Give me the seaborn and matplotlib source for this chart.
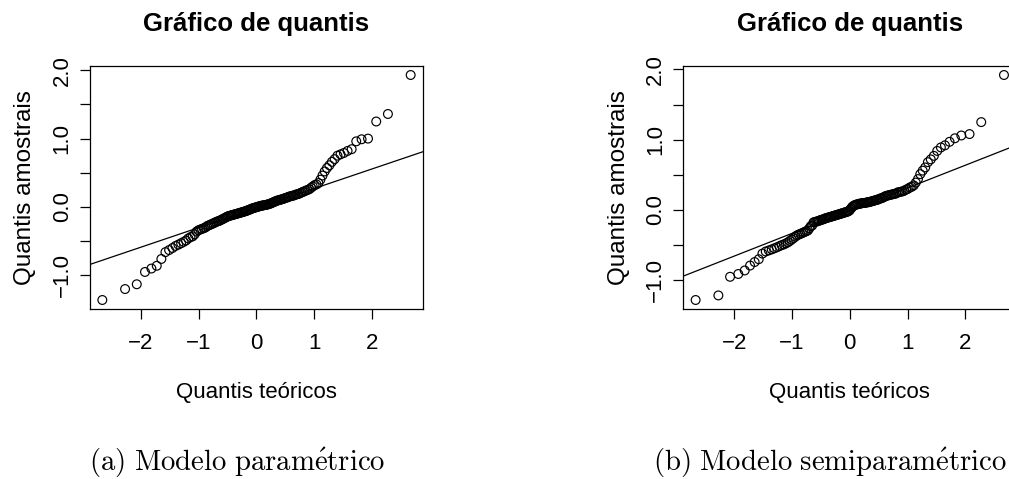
import numpy as np
import seaborn as sns
import matplotlib.pyplot as plt
from statistics import NormalDist

# sorted sample quantiles (130 points each)
sample_param = [
    -1.36, -1.20, -1.13, -0.95, -0.90, -0.86, -0.76, -0.66, -0.63, -0.60,
    -0.57, -0.55, -0.53, -0.51, -0.49, -0.46, -0.44, -0.43, -0.40, -0.36,
    -0.34, -0.33, -0.32, -0.31, -0.30, -0.28, -0.27, -0.26, -0.25, -0.24,
    -0.23, -0.22, -0.21, -0.205, -0.195, -0.185, -0.175, -0.165, -0.155, -0.145,
    -0.135, -0.13, -0.125, -0.12, -0.115, -0.11, -0.105, -0.10, -0.095, -0.09,
    -0.085, -0.08, -0.075, -0.07, -0.065, -0.06, -0.055, -0.045, -0.04, -0.035,
    -0.025, -0.02, -0.015, -0.01, -0.005, 0.00, 0.005, 0.01, 0.015, 0.02,
    0.02, 0.025, 0.03, 0.03, 0.035, 0.04, 0.045, 0.05, 0.06, 0.065,
    0.075, 0.08, 0.09, 0.095, 0.10, 0.105, 0.11, 0.115, 0.12, 0.13,
    0.135, 0.14, 0.15, 0.155, 0.16, 0.165, 0.17, 0.18, 0.185, 0.19,
    0.20, 0.21, 0.22, 0.23, 0.24, 0.25, 0.26, 0.28, 0.30, 0.32,
    0.33, 0.35, 0.40, 0.46, 0.52, 0.57, 0.61, 0.66, 0.70, 0.75,
    0.77, 0.79, 0.82, 0.845, 0.96, 0.99, 1.00, 1.25, 1.36, 1.93,
]

sample_semi = [
    -1.28, -1.215, -0.95, -0.91, -0.86, -0.79, -0.74, -0.70, -0.62, -0.59,
    -0.575, -0.56, -0.545, -0.53, -0.515, -0.50, -0.49, -0.475, -0.46, -0.44,
    -0.42, -0.40, -0.38, -0.36, -0.35, -0.34, -0.33, -0.32, -0.31, -0.30,
    -0.29, -0.26, -0.23, -0.22, -0.175, -0.17, -0.165, -0.16, -0.155, -0.145,
    -0.14, -0.135, -0.13, -0.12, -0.115, -0.11, -0.105, -0.10, -0.095, -0.09,
    -0.085, -0.08, -0.075, -0.07, -0.065, -0.06, -0.055, -0.05, -0.045, -0.04,
    -0.035, -0.03, -0.025, -0.02, -0.01, 0.01, 0.03, 0.05, 0.06, 0.07,
    0.075, 0.08, 0.085, 0.09, 0.09, 0.095, 0.10, 0.10, 0.10, 0.105,
    0.11, 0.11, 0.115, 0.12, 0.125, 0.13, 0.135, 0.14, 0.145, 0.15,
    0.16, 0.165, 0.17, 0.18, 0.19, 0.20, 0.205, 0.21, 0.215, 0.22,
    0.225, 0.23, 0.235, 0.25, 0.255, 0.26, 0.265, 0.275, 0.29, 0.30,
    0.32, 0.33, 0.35, 0.39, 0.44, 0.51, 0.56, 0.605, 0.68, 0.72,
    0.77, 0.84, 0.89, 0.92, 0.97, 1.02, 1.06, 1.08, 1.25, 1.92,
]

titles = ["Gráfico de quantis", "Gráfico de quantis"]
captions = [r"$\mathrm{(a)\ Modelo\ param\acute{e}trico}$",
            r"$\mathrm{(b)\ Modelo\ semiparam\acute{e}trico}$"]
x_ticks = [-2, -1, 0, 1, 2]
x_tick_labels = ["\u22122", "\u22121", "0", "1", "2"]
y_ticks = [-1.0, -0.5, 0.0, 0.5, 1.0, 1.5, 2.0]
y_tick_labels = ["\u22121.0", "", "0.0", "", "1.0", "", "2.0"]

sns.set_theme(style="ticks")
plt.rcParams["font.family"] = ["Liberation Sans", "DejaVu Sans"]
plt.rcParams["mathtext.fontset"] = "cm"
plt.rcParams["text.color"] = "black"
plt.rcParams["axes.labelcolor"] = "black"
plt.rcParams["xtick.color"] = "black"
plt.rcParams["ytick.color"] = "black"


def theo_quantiles(n):
    nd = NormalDist()
    return np.array([nd.inv_cdf((i - 0.5) / n) for i in range(1, n + 1)])


def r_lim(v):
    lo, hi = min(v), max(v)
    pad = 0.04 * (hi - lo)
    return lo - pad, hi + pad


fig = plt.figure(figsize=(10.09, 4.79), dpi=100)
ax1 = fig.add_axes([90 / 1009, 170 / 479, 333 / 1009, 243 / 479])
ax2 = fig.add_axes([683.3 / 1009, 170 / 479, 333 / 1009, 243 / 479])

nd = NormalDist()
for ax, sample, title in zip([ax1, ax2], [sample_param, sample_semi], titles):
    y = np.sort(np.array(sample))
    x = theo_quantiles(len(y))
    sns.scatterplot(x=x, y=y, ax=ax, marker="o", s=40, color="none",
                    edgecolor="black", linewidth=0.85)

    # qqline through the quartiles
    q1, q3 = np.percentile(y, [25, 75])
    z1, z3 = nd.inv_cdf(0.25), nd.inv_cdf(0.75)
    slope = (q3 - q1) / (z3 - z1)
    ax.axline((0, q1 - slope * z1), slope=slope, color="black", lw=0.9)

    ax.set_xlim(r_lim(x))
    ax.set_ylim(r_lim(y))
    ax.set_xticks(x_ticks)
    ax.set_xticklabels(x_tick_labels)
    ax.set_yticks(y_ticks)
    ax.set_yticklabels(y_tick_labels)
    for sp in ax.spines.values():
        sp.set_visible(True)
        sp.set_color("black")
        sp.set_linewidth(0.9)
    ax.tick_params(direction="out", length=7.5, width=0.9, labelsize=16)
    ax.tick_params(axis="x", pad=10)
    ax.tick_params(axis="y", pad=5)
    plt.setp(ax.get_yticklabels(), rotation=90, va="center")
    ax.set_xlabel("Quantis teóricos", fontsize=16, labelpad=20)
    ax.set_ylabel("Quantis amostrais", fontsize=17.5, labelpad=11)
    ax.set_title(title, fontsize=18.5, fontweight="bold", pad=25)
    ax.grid(False)

fig.text(237 / 1009, 9.5 / 479, captions[0], ha="center", va="baseline", fontsize=20.7)
fig.text(830 / 1009, 9.5 / 479, captions[1], ha="center", va="baseline", fontsize=20.7)

fig.savefig("out.png", dpi=100)
